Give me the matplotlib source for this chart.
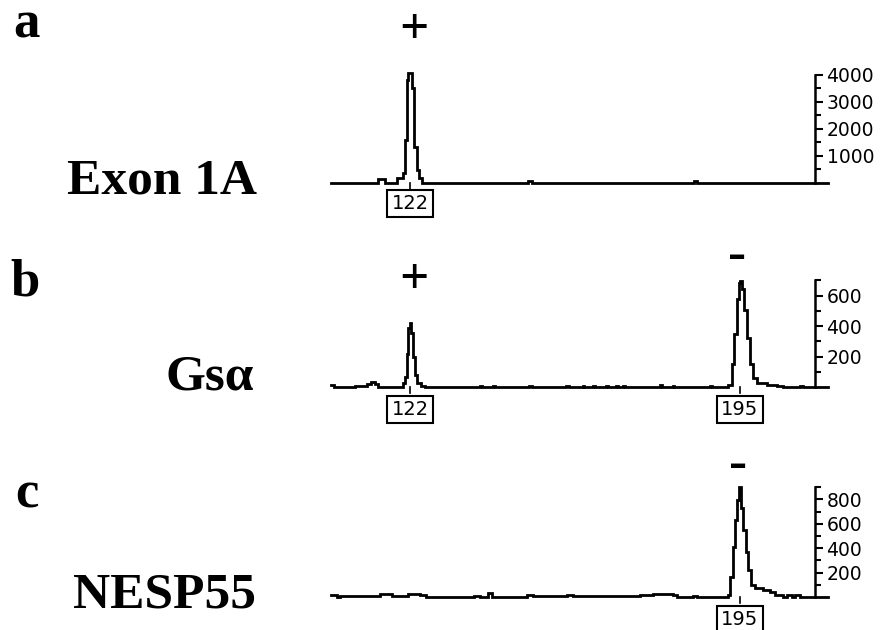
import matplotlib
matplotlib.use('Agg')
import matplotlib.pyplot as plt

# 圖片大小 (pixels)
W, H = 884, 630

# ---- data: fragment size (bp) -> signal, stored as step levels ----
# panel a : Exon 1A
size_a = [104.5, 115.0, 116.5, 119.05, 120.52, 120.89, 121.26, 121.63, 122.37,
          122.96, 123.47, 124.06, 124.58, 148.2, 149.0, 184.8, 185.6, 214.5]
signal_a = [0, 130, 0, 160, 350, 1580, 3800, 4050, 3500,
            1330, 470, 160, 0, 60, 0, 60, 0, 0]

# panel b : Gs alpha
size_b = [104.5, 105.2, 109.8, 112.4, 113.3, 114.3, 115.0, 116.2, 117.9, 120.5,
          120.9, 121.3, 121.6, 121.9, 122.3, 122.6, 123.0, 123.6, 124.5, 125.3,
          137.4, 138.0, 140.3, 140.8, 148.4, 148.9, 156.6, 157.1, 160.2, 160.6,
          162.4, 162.9, 165.4, 165.8, 167.6, 168.1, 169.1, 169.5, 173.5, 174.0,
          177.2, 177.8, 180.1, 180.5, 188.3, 188.8,
          192.42, 193.16, 193.68, 194.27, 194.71, 195.0, 195.38, 195.89, 196.47,
          197.2, 197.95, 198.7, 200.9, 203.1, 204.5, 208.3, 209.0, 214.5]
signal_b = [15, 0, 8, 20, 37, 20, 5, 0, 5, 30,
            70, 220, 390, 418, 355, 200, 80, 26, 8, 0,
            10, 0, 8, 0, 8, 0, 8, 0, 6, 0,
            8, 0, 6, 0, 8, 0, 6, 0, 5, 0,
            12, 0, 6, 0, 6, 0,
            15, 155, 350, 580, 680, 697, 645, 505, 320,
            155, 60, 26, 15, 8, 0, 6, 0, 0]

# panel c : NESP55
size_c = [104.5, 105.8, 106.5, 107.6, 111.7, 115.4, 118.0, 121.6, 124.2, 125.5,
          136.2, 137.5, 139.3, 140.1, 147.8, 149.3, 156.7, 158.1, 170.7, 172.2,
          172.9, 175.8, 180.25, 181.0, 184.6, 185.5,
          192.42, 192.8, 193.53, 193.9, 194.41, 194.72, 195.3, 195.74, 196.34,
          196.85, 197.37, 198.33, 200.16, 201.65, 202.75, 204.6, 205.33, 206.45,
          207.2, 208.3, 214.5]
signal_c = [20, 0, 12, 5, 10, 25, 5, 25, 15, 0,
            10, 0, 30, 0, 20, 5, 15, 5, 8, 5,
            20, 28, 15, 0, 10, 0,
            16, 167, 413, 631, 795, 904, 727, 549, 372,
            221, 98, 71, 57, 40, 16, 0, 16, 0,
            16, 0, 0]

peaks_a = [122]
peaks_b = [122, 195]
peaks_c = [195]

ticks_a, minor_a = [1000, 2000, 3000, 4000], [500, 1500, 2500, 3500]
ticks_b, minor_b = [200, 400, 600], [100, 300, 500, 700]
ticks_c, minor_c = [200, 400, 600, 800], [100, 300, 500, 700, 900]

SERIF = ['Liberation Serif', 'DejaVu Serif']

fig = plt.figure(figsize=(W / 100, H / 100), dpi=100)


def add_panel(baseline_px, px_per_unit, ymax, sizes, signal, peaks, ticks, minor,
              box_offset=-15):
    left_px, right_px = 320, 840
    top_px = baseline_px - ymax * px_per_unit - 12
    bot_px = baseline_px + 12
    ax = fig.add_axes([left_px / W, 1 - bot_px / H,
                       (right_px - left_px) / W, (bot_px - top_px) / H])
    ax.set_xlim(122 + (left_px - 410) / 4.52, 122 + (right_px - 410) / 4.52)
    ax.set_ylim(-12 / px_per_unit, ymax + 12 / px_per_unit)
    ax.patch.set_alpha(0)

    ax.plot(sizes, signal, drawstyle='steps-post', color='black', lw=2.0,
            clip_on=False, solid_joinstyle='miter')

    for s in ['top', 'left', 'bottom']:
        ax.spines[s].set_visible(False)
    ax.spines['right'].set_position(('data', 211.7))
    ax.spines['right'].set_bounds(0, ymax)
    ax.spines['right'].set_linewidth(1.8)
    ax.yaxis.tick_right()
    ax.set_xticks([])
    ax.set_yticks(ticks)
    ax.set_yticks(minor, minor=True)
    ax.tick_params(axis='y', which='major', length=6, width=1.5, pad=2,
                   labelsize=13.5, direction='out')
    ax.tick_params(axis='y', which='minor', length=4, width=1.5, direction='out')

    # 片段大小標籤
    for p in peaks:
        ax.plot([p, p], [0, -6 / px_per_unit], color='black', lw=1.2, clip_on=False)
        ax.annotate(str(p), xy=(p, 0), xytext=(0, box_offset), textcoords='offset points',
                    ha='center', va='center', fontsize=14, annotation_clip=False,
                    bbox=dict(boxstyle='square,pad=0.22', fc='white', ec='black', lw=1.5))
    return ax


add_panel(182.7, 0.027, 4000, size_a, signal_a, peaks_a, ticks_a, minor_a)
add_panel(387.3, 0.153, 700, size_b, signal_b, peaks_b, ticks_b, minor_b, box_offset=-16)
add_panel(597.0, 0.122, 900, size_c, signal_c, peaks_c, ticks_c, minor_c, box_offset=-16.5)


def ftext(x, y, s, size, ha='left', family=SERIF):
    fig.text(x / W, 1 - y / H, s, fontsize=size, ha=ha, va='baseline',
             family=family, fontweight='bold')


ftext(13, 38, 'a', 38)
ftext(67, 193, 'Exon 1A', 37)
ftext(10, 295, 'b', 38)
ftext(166, 390, 'Gs\u03b1', 37)
ftext(15, 508, 'c', 38)
ftext(73, 608, 'NESP55', 37)

ftext(414, 43, '+', 37, ha='center')
ftext(414, 293, '+', 37, ha='center')
ftext(737, 267, '\u2013', 26, ha='center', family=['DejaVu Sans'])
ftext(738, 476, '\u2013', 26, ha='center', family=['DejaVu Sans'])

fig.savefig('out.png', dpi=100)
plt.close()
